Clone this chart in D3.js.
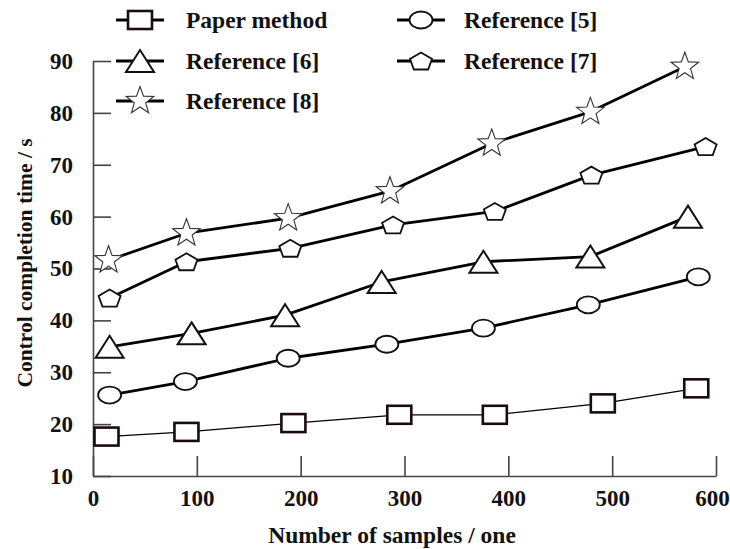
<!DOCTYPE html>
<html>
<head>
<meta charset="utf-8">
<script src="https://cdn.jsdelivr.net/npm/d3@7"></script>
<style>
  html, body { margin: 0; padding: 0; background: #fff; }
  svg { display: block; }
  svg text { font-family: "Liberation Serif", "DejaVu Serif", "Times New Roman", serif !important; font-weight: bold; fill: #111; }
</style>
</head>
<body>
<svg id="chart" width="730" height="549"></svg>
<script>
// ---- data ----
const xTicks = [0, 100, 200, 300, 400, 500, 600];
const yTicks = [10, 20, 30, 40, 50, 60, 70, 80, 90];

const seriesNames = ["Paper method", "Reference [5]", "Reference [6]", "Reference [7]", "Reference [8]"];

const paperX = [13, 90, 193, 295, 387, 491, 581];
const paperY = [17.6, 18.5, 20.2, 21.8, 21.8, 24.0, 26.9];

const ref5X = [16, 89, 188, 283, 376, 477, 583];
const ref5Y = [25.6, 28.2, 32.7, 35.4, 38.5, 43.0, 48.4];

const ref6X = [16, 95, 185, 278, 376, 479, 573];
const ref6Y = [34.9, 37.5, 41.0, 47.4, 51.3, 52.3, 60.0];

const ref7X = [16, 90, 190, 289, 387, 480, 590];
const ref7Y = [44.3, 51.3, 53.9, 58.4, 61.0, 68.0, 73.5];

const ref8X = [15, 90, 188, 286, 384, 479, 570];
const ref8Y = [51.6, 56.8, 59.7, 64.9, 74.1, 80.2, 88.9];

const xLabel = "Number of samples / one";
const yLabel = "Control completion time / s";

// ---- layout ----
const FONT = "'Liberation Serif', 'DejaVu Serif', 'Times New Roman', serif";
const svg = d3.select("#chart");
const x = d3.scaleLinear().domain([0, 600]).range([93, 716]);
const y = d3.scaleLinear().domain([10, 90]).range([476, 61]);

// markers
function starPath(ro, ri) {
  let p = [];
  for (let i = 0; i < 10; i++) {
    const a = -Math.PI / 2 + i * Math.PI / 5;
    const r = i % 2 === 0 ? ro : ri;
    p.push([r * Math.cos(a), r * Math.sin(a)]);
  }
  return "M" + p.map(d => d.join(",")).join("L") + "Z";
}
function pentPath(w, h) {
  const hw = w / 2, hh = h / 2;
  return `M0,${-hh}L${hw},${-hh * 0.25}L${hw * 0.65},${hh}L${-hw * 0.65},${hh}L${-hw},${-hh * 0.25}Z`;
}
const markers = {
  square: (g) => g.append("rect").attr("x", -12).attr("y", -9).attr("width", 24).attr("height", 18)
      .attr("fill", "#fff").attr("stroke", "#1a0c0c").attr("stroke-width", 2.6),
  circle: (g) => g.append("ellipse").attr("rx", 11.5).attr("ry", 8.5)
      .attr("fill", "#fff").attr("stroke", "#111").attr("stroke-width", 1.8),
  triangle: (g) => g.append("path").attr("d", "M0,-11L14,11L-14,11Z")
      .attr("fill", "#fff").attr("stroke", "#111").attr("stroke-width", 2),
  pentagon: (g) => g.append("path").attr("d", pentPath(22, 17))
      .attr("fill", "#fff").attr("stroke", "#111").attr("stroke-width", 1.8),
  star: (g) => g.append("path").attr("d", starPath(14.5, 6))
      .attr("fill", "#fff").attr("stroke", "#333").attr("stroke-width", 1.1)
};

const series = [
  { name: seriesNames[0], xs: paperX, ys: paperY, marker: "square", lw: 1.2 },
  { name: seriesNames[1], xs: ref5X, ys: ref5Y, marker: "circle", lw: 2.8 },
  { name: seriesNames[2], xs: ref6X, ys: ref6Y, marker: "triangle", lw: 2.8 },
  { name: seriesNames[3], xs: ref7X, ys: ref7Y, marker: "pentagon", lw: 2.8 },
  { name: seriesNames[4], xs: ref8X, ys: ref8Y, marker: "star", lw: 2.8 }
];

// axes
const xAxis = d3.axisBottom(x).tickValues(xTicks).tickSizeInner(-20).tickSizeOuter(0).tickPadding(14).tickFormat(d3.format("d"));
const yAxis = d3.axisLeft(y).tickValues(yTicks).tickSizeInner(-18).tickSizeOuter(0).tickPadding(20).tickFormat(d3.format("d"));

const gx = svg.append("g").attr("transform", `translate(0,${y.range()[0]})`).call(xAxis);
const gy = svg.append("g").attr("transform", `translate(${x.range()[0]},0)`).call(yAxis);
[gx, gy].forEach(g => {
  g.attr("font-family", FONT).attr("font-size", 23);
  g.selectAll("path.domain").attr("stroke", "#444").attr("stroke-width", 1.6);
  g.selectAll(".tick line").attr("stroke", "#444").attr("stroke-width", 1.6);
  g.selectAll(".tick text").attr("font-family", FONT).attr("font-weight", "bold")
    .attr("font-size", 23).attr("fill", "#111");
});
gx.selectAll(".tick text").attr("dx", (d) => d === 600 ? -4 : 0);

// lines + markers
const line = d3.line().x(d => x(d[0])).y(d => y(d[1]));
series.forEach(s => {
  const pts = s.xs.map((v, i) => [v, s.ys[i]]);
  svg.append("path").datum(pts).attr("d", line).attr("fill", "none")
    .attr("stroke", "#000").attr("stroke-width", s.lw).attr("stroke-linejoin", "round");
});
series.forEach(s => {
  const pts = s.xs.map((v, i) => [v, s.ys[i]]);
  pts.forEach(p => {
    const g = svg.append("g").attr("transform", `translate(${x(p[0])},${y(p[1])})`);
    markers[s.marker](g);
  });
});

// legend
const legendPos = [
  { cx: 140, cy: 20, tx: 186 },
  { cx: 421, cy: 20, tx: 464 },
  { cx: 140, cy: 61, tx: 186 },
  { cx: 421, cy: 61, tx: 464 },
  { cx: 140, cy: 101, tx: 186 }
];
series.forEach((s, i) => {
  const p = legendPos[i];
  svg.append("line").attr("x1", p.cx - 24).attr("x2", p.cx + 24).attr("y1", p.cy).attr("y2", p.cy)
    .attr("stroke", "#000").attr("stroke-width", 2.8);
  const g = svg.append("g").attr("transform", `translate(${p.cx},${p.cy})`);
  markers[s.marker](g);
  svg.append("text").attr("x", p.tx).attr("y", p.cy + 8).attr("font-family", FONT)
    .attr("font-size", 23.5).text(s.name);
});

// axis titles
svg.append("text").attr("x", 392).attr("y", 543).attr("text-anchor", "middle").attr("font-family", FONT)
  .attr("font-size", 23.5).text(xLabel);
svg.append("text").attr("transform", "translate(32,263) rotate(-90)").attr("text-anchor", "middle")
  .attr("font-family", FONT).attr("font-size", 21.5).text(yLabel);
</script>
</body>
</html>
